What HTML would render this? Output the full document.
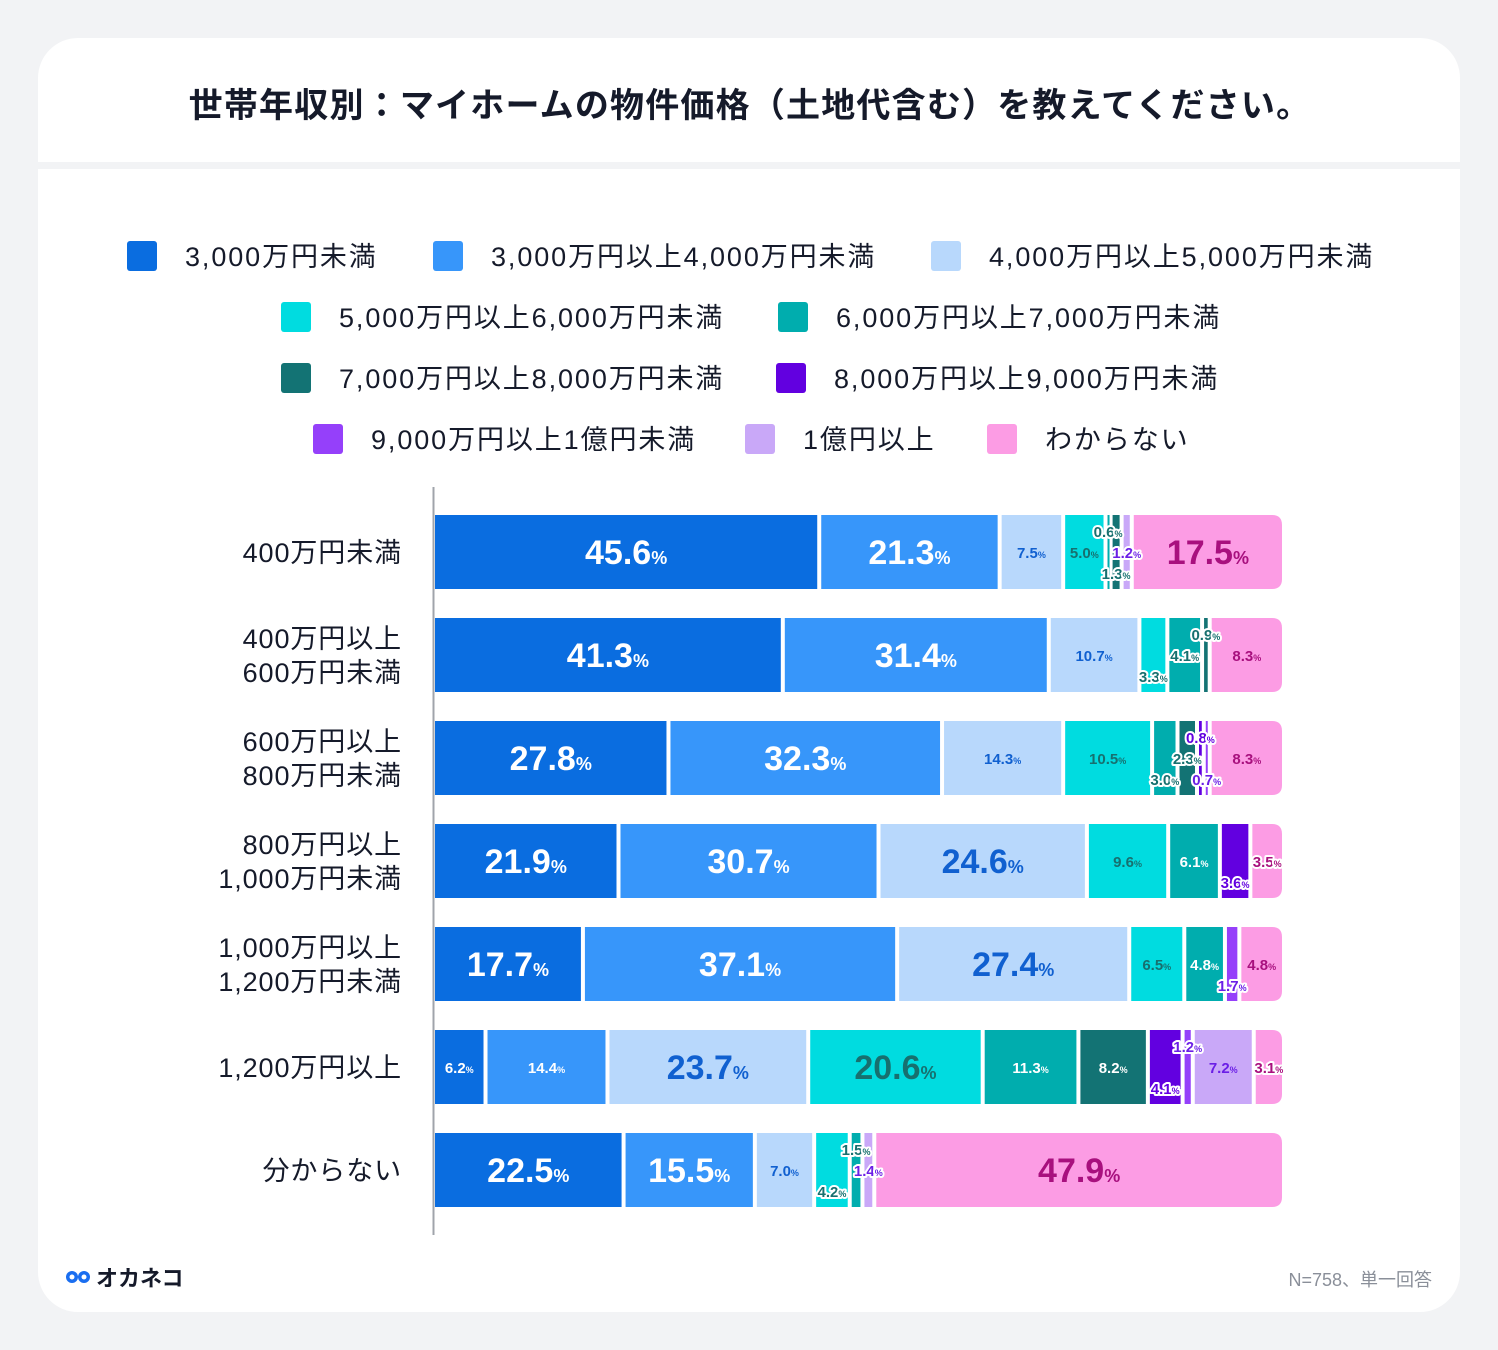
<!DOCTYPE html>
<html><head><meta charset="utf-8">
<style>
body{margin:0;width:1498px;height:1350px;background:#f2f3f5;font-family:"Liberation Sans","Noto Sans CJK JP",sans-serif;overflow:hidden}
svg{position:absolute;left:0;top:0}
</style></head>
<body>
<svg id="chart" width="1498" height="1350">
<rect x="38" y="38" width="1422" height="1274" rx="40" fill="#fff"/>
<rect x="38" y="162" width="1422" height="7" fill="#f2f3f5"/>
<text x="750" y="117" text-anchor="middle" font-size="34" font-weight="bold" letter-spacing="1.2" fill="#151a2a" font-family="Liberation Sans,Noto Sans CJK JP,sans-serif">世帯年収別：マイホームの物件価格（土地代含む）を教えてください。</text>
<g id="legend"></g>
<line x1="433.5" y1="487" x2="433.5" y2="1235" stroke="#a0a4ab" stroke-width="2"/>
<g id="bars"></g>
<g>
<circle cx="72" cy="1277" r="6" fill="#1a6ef0"/><circle cx="84" cy="1277" r="6" fill="#1a6ef0"/>
<circle cx="72" cy="1277" r="2.5" fill="#fff"/><circle cx="84" cy="1277" r="2.5" fill="#fff"/>
<text x="96" y="1286" font-size="22" font-weight="bold" fill="#151a2a">オカネコ</text>
</g>
<text x="1432" y="1286" text-anchor="end" font-size="18" fill="#8a8f99">N=758、単一回答</text>
</svg>
<script>
const categories = ["400万円未満","400万円以上\n600万円未満","600万円以上\n800万円未満","800万円以上\n1,000万円未満","1,000万円以上\n1,200万円未満","1,200万円以上","分からない"];
const seriesNames = ["3,000万円未満","3,000万円以上4,000万円未満","4,000万円以上5,000万円未満","5,000万円以上6,000万円未満","6,000万円以上7,000万円未満","7,000万円以上8,000万円未満","8,000万円以上9,000万円未満","9,000万円以上1億円未満","1億円以上","わからない"];
const row1 = [45.6,21.3,7.5,5.0,0.6,1.3,0,0,1.2,17.5];
const row2 = [41.3,31.4,10.7,3.3,4.1,0.9,0,0,0,8.3];
const row3 = [27.8,32.3,14.3,10.5,3.0,2.3,0.8,0.7,0,8.3];
const row4 = [21.9,30.7,24.6,9.6,6.1,0,3.6,0,0,3.5];
const row5 = [17.7,37.1,27.4,6.5,4.8,0,0,1.7,0,4.8];
const row6 = [6.2,14.4,23.7,20.6,11.3,8.2,4.1,1.2,7.2,3.1];
const row7 = [22.5,15.5,7.0,4.2,1.5,0,0,0,1.4,47.9];
const values = [row1,row2,row3,row4,row5,row6,row7];
// label placement: 0 center, -1 above, 1 below
const place = [
 [0,0,0,0,-1,1,0,0,0,0],
 [0,0,0,1,0,-1,0,0,0,0],
 [0,0,0,0,1,0,-1,1,0,0],
 [0,0,0,0,0,0,1,0,0,0],
 [0,0,0,0,0,0,0,1,0,0],
 [0,0,0,0,0,0,1,-1,0,0],
 [0,0,0,1,-1,0,0,0,0,0]];
const colors = ["#0a6de0","#3796fa","#b8d8fc","#00dce0","#00adae","#137374","#6200e0","#9540fa","#c9a8f8","#fc9ce4"];
const txtCol = ["#fff","#fff","#1060d0","#17706f","#fff","#fff","#fff","#6b1ee6","#6b1ee6","#a8107e"];
const outCol = ["#0a6de0","#3796fa","#1060d0","#17706f","#17706f","#17706f","#6200e0","#6b1ee6","#6b1ee6","#a8107e"];
const NS="http://www.w3.org/2000/svg";
const X0=435, W=847, Y0=552, STEP=103, H=74;
const xs = v => v/100*W;
const yc = i => Y0 + i*STEP;
function mk(tag, attrs, parent){const e=document.createElementNS(NS,tag);for(const k in attrs)e.setAttribute(k,attrs[k]);parent.appendChild(e);return e;}
const lg=document.getElementById('legend');
const legRows=[[0,1,2],[3,4],[5,6],[7,8,9]];
const legX=[[127,433,931],[281,778],[281,776],[313,745,987]];
legRows.forEach((r,ri)=>{r.forEach((si,j)=>{
 const y=256+ri*61, x=legX[ri][j];
 const g=mk('g',{},lg);
 
 
 mk('rect',{x:x,y:y-15,width:30,height:30,rx:3,fill:colors[si]},g);
 const t=mk('text',{x:x+58,y:y+10,'font-size':27,'letter-spacing':1.9,fill:'#151a2a'},g);
 t.textContent=seriesNames[si];
});});
const bg=document.getElementById('bars');
categories.forEach((c,i)=>{
 const lines=c.split('\n');
 const t=mk('text',{x:402,'text-anchor':'end','font-size':27,'letter-spacing':0.9,fill:'#151a2a'},bg);
 
 
 lines.forEach((l,k)=>{const ts=mk('tspan',{x:402,y:yc(i)+10+(k-(lines.length-1)/2)*34},t);ts.textContent=l;});
 let acc=0;
 const vals=values[i];
 let last=-1; vals.forEach((v,j)=>{if(v>0)last=j;});
 const labels=[];
 vals.forEach((v,j)=>{
  if(v<=0)return;
  const x=X0+xs(acc), w=xs(v);
  acc+=v;
  const y=yc(i)-H/2;
  let r;
  if(j===last){
   const ww=Math.max(w,8);
   r=mk('path',{d:`M${x} ${y}H${x+ww-10}Q${x+ww} ${y} ${x+ww} ${y+10}V${y+H-10}Q${x+ww} ${y+H} ${x+ww-10} ${y+H}H${x}Z`,fill:colors[j]},bg);
  } else {
   r=mk('rect',{x:x,y:y,width:Math.max(w-4,2),height:H,fill:colors[j]},bg);
  }
  
  
  labels.push({v,j,cx:x+(j===last?w:w-4)/2});
 });
 labels.forEach(o=>{
  const big=o.v>=15;
  const p=place[i][o.j];
  const fs=big?34:15;
  const ty=yc(i)+(big?12:6)+p*21;
  const outlined=o.v<4.5;
  const tcol=outlined?outCol[o.j]:txtCol[o.j];
  const t=mk('text',{x:o.cx,y:ty,'text-anchor':'middle','font-size':fs,'font-weight':'bold',fill:tcol},bg);
  if(outlined){t.setAttribute('stroke','#fff');t.setAttribute('stroke-width','4');t.setAttribute('paint-order','stroke');t.setAttribute('stroke-linejoin','round');}
  
  
  const a=mk('tspan',{},t);a.textContent=o.v.toFixed(1);
  const b=mk('tspan',{'font-size':big?18:9},t);b.textContent='%';
 });
});
</script>
</body></html>
